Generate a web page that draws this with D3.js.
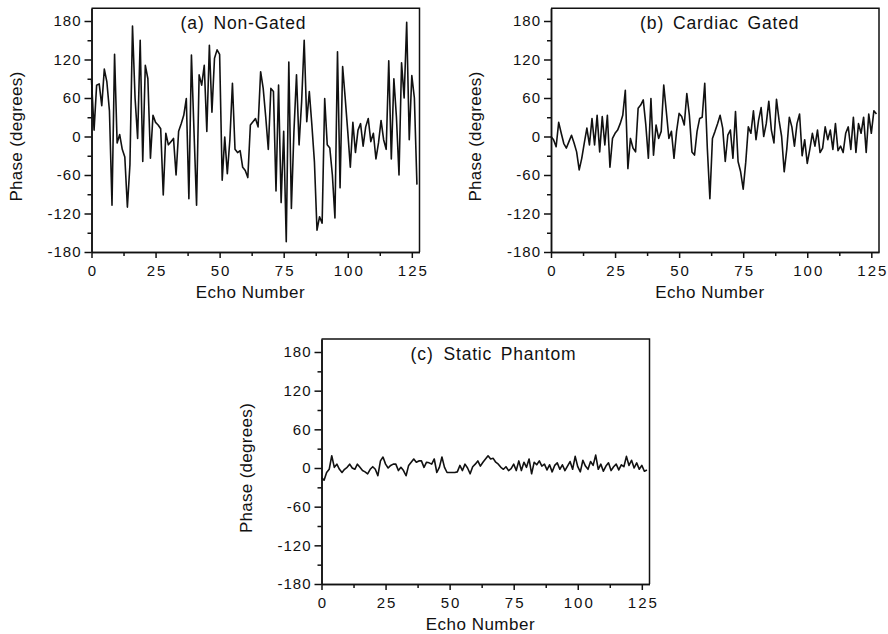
<!DOCTYPE html>
<html>
<head>
<meta charset="utf-8">
<script src="https://cdn.jsdelivr.net/npm/d3@7"></script>
<style>
  body { margin: 0; background: #fff; }
  svg { display: block; }
  text { font-family: "Liberation Sans", Arial, Helvetica, sans-serif; fill: #111; }
</style>
</head>
<body>
<div id="chart"></div>
<script>
// phase (degrees) per echo, echoes 0..127
var nonGated = [
   88,  10,  80,  82,  48, 105,  85,  40,-107, 128,
  -10,   3, -20, -32,-110, -44, 172,  60,  -3, 150,
  -39, 111,  90, -34,  33,  22,  18,  12, -91,   5,
  -13,  -8,  -3, -60,   8,  20,  33,  59, -97, 127,
    8,-107,  96,  80, 111,   8, 142,  38, 122, 135,
  128, -68,  -1, -58,  -5,  83, -20, -25, -22, -48,
  -53, -64,  18,  23,  28,  15, 101,  75,  30, -20,
   75,  70, -85,  80,-103,   8,-164, 116,-112,   8,
   96, -13,  54, 150,  23,  70,  18, -40,-146,-125,
 -135,  59, -13, -18, -60,-127, 132, -80, 109,  60,
    8, -48,  22, -25,  10,  20, -15,  15,  28,  -8,
    5, -35, -10,  25,  -5, -20, 118, -35,  90,  30,
  -60, 115,  60, 178,  -5,  95,  60, -75
];

var cardiacGated = [
    0,  -5, -16,  22,   5, -11, -18,  -8,   2, -10,
  -24, -52, -34, -10,  13, -13,  28, -13,  33, -24,
   31, -13,  33, -48,  -3,   5,  10,  20,  33,  72,
  -50,  -3, -18, -24,  44,  49,  57,  18, -34,  59,
  -29,  18,  -3,   8,  80,  39,  -3,   8, -34,   8,
   36,  31,  18,  67,  33, -24, -29,   8,  28,  30,
   83, -18, -97,  -3,   8,  20,  33,  13, -39,   2,
   10, -34,  39, -39, -55, -82, -40,  15,   5,  40,
   -5,  25,  45,   0,  20,  55,  10, -10,  58,  25,
    0, -55, -20,  30,  15, -15,  20,  35, -30,  -5,
  -42, -20,   5, -15,  10, -25, -18,  15,  -5,  10,
  -20,  20, -22, -15, -25,   5,  15, -20,  30, -25,
   20,   5,  30, -25,  35,   5,  40,  35
];

var staticPhantom = [
  -15, -19,  -7,  -2,  19,   1,   6,  -2,  -7,  -2,
    1,   6,   0,  -2,   6,   1,  -4,  -6,  -9,  -2,
    2,  -2, -12,  11,  17,   6,   0,   4,   6,   6,
   -4,   1,  -4, -12,   4,   9,  14,   9,  11,  11,
    1,   9,   8,   6,  14,  -7,   1,  17,   1,  -7,
   -7,  -7,  -7,  -6,   4,  -4,   6,   0,  -9,   2,
    6,  11,   3,   9,  14,  19,  14,  15,   9,   6,
    1,  -2,   2,  -4,  -1,   6,  -4,  11,  -4,   9,
    1,  14,  -9,   9,   5,  11,   3,   6,  -3,   5,
   -6,   4,   8,  -2,   5,  -4,   3,  10,  -2,  18,
    2,  -6,  12,   3,  -2,  10,   4,  20,  -2,   6,
   -5,   3,   8,  -4,   2,   6,  -3,   5,   2,  18,
    4,  12,   0,   8,  -2,   4,  -5,  -3
];

var xTicks = [0, 25, 50, 75, 100, 125],
    xMinor = [12.5, 37.5, 62.5, 87.5, 112.5],
    yTicks = [-180, -120, -60, 0, 60, 120, 180],
    yMinor = [-150, -90, -30, 30, 90, 150];

var panels = [
  {tag: "(a)", title: "Non-Gated",      values: nonGated,      left: 91.5,  top: 21,  bottom: 252},
  {tag: "(b)", title: "Cardiac Gated",  values: cardiacGated,  left: 551,   top: 21,  bottom: 252},
  {tag: "(c)", title: "Static Phantom", values: staticPhantom, left: 321.5, top: 352, bottom: 584}
];

var width = 888, height = 634, plotWidth = 328;

var svg = d3.select("#chart").append("svg")
    .attr("width", width)
    .attr("height", height);

panels.forEach(function(p) {
  var x = d3.scaleLinear().domain([0, 128]).range([p.left, p.left + plotWidth]);
  // y runs up to 200 so the frame sits a little above the 180 tick
  var pxPerDeg = (p.bottom - p.top) / 360;
  var y = d3.scaleLinear().domain([-180, 200]).range([p.bottom, p.bottom - 380 * pxPerDeg]);

  var g = svg.append("g").attr("class", "panel");

  // frame: top and right sides
  g.append("path")
      .attr("d", "M" + x(0) + "," + y(200) + "H" + x(128) + "V" + y(-180))
      .attr("fill", "none")
      .attr("stroke", "#111")
      .attr("stroke-width", 1.5);

  // minor ticks first, then the labelled axis on top
  g.append("g")
      .attr("transform", "translate(" + x(0) + ",0)")
      .call(d3.axisLeft(y).tickValues(yMinor).tickSize(4).tickSizeOuter(0).tickFormat(""));
  g.append("g")
      .attr("transform", "translate(0," + y(-180) + ")")
      .call(d3.axisBottom(x).tickValues(xMinor).tickSize(4).tickSizeOuter(0).tickFormat(""));

  g.append("g")
      .attr("transform", "translate(" + x(0) + ",0)")
      .call(d3.axisLeft(y).tickValues(yTicks).tickSize(7).tickSizeOuter(0).tickPadding(3)
        .tickFormat(function(d) { return String(d); }));
  var xAxis = g.append("g")
      .attr("transform", "translate(0," + y(-180) + ")")
      .call(d3.axisBottom(x).tickValues(xTicks).tickSize(6).tickSizeOuter(0).tickPadding(7)
        .tickFormat(function(d) { return String(d); }));

  g.selectAll(".domain, .tick line")
      .attr("stroke", "#111")
      .attr("stroke-width", 1.5);
  g.selectAll(".tick text")
      .attr("font-size", 15)
      .attr("letter-spacing", 1)
      .style("font-family", "'Liberation Sans', Arial, sans-serif")
      .attr("fill", "#111");
  xAxis.selectAll(".tick text").attr("letter-spacing", 2).attr("dx", 1);

  // axis titles
  g.append("text")
      .attr("transform", "translate(" + (x(0) - 70) + "," + y(0) + ") rotate(-90)")
      .attr("text-anchor", "middle")
      .attr("font-size", 17)
      .attr("letter-spacing", 0.3)
      .text("Phase  (degrees)");

  g.append("text")
      .attr("x", x(62))
      .attr("y", y(-180) + 46)
      .attr("text-anchor", "middle")
      .attr("font-size", 17)
      .attr("letter-spacing", 0.5)
      .text("Echo  Number");

  // panel label
  g.append("text")
      .attr("x", x(0) + 89)
      .attr("y", y(180) + 8)
      .attr("font-size", 17.5)
      .attr("letter-spacing", 1)
      .text(p.tag);
  g.append("text")
      .attr("x", x(0) + 122)
      .attr("y", y(180) + 8)
      .attr("font-size", 17.5)
      .attr("letter-spacing", 0.8)
      .attr("word-spacing", 3)
      .text(p.title);

  var line = d3.line()
      .x(function(d, i) { return x(i); })
      .y(function(d) { return y(d); });

  g.append("path")
      .datum(p.values)
      .attr("d", line)
      .attr("fill", "none")
      .attr("stroke", "#111")
      .attr("stroke-width", 1.6)
      .attr("stroke-linejoin", "round");
});
</script>
</body>
</html>
